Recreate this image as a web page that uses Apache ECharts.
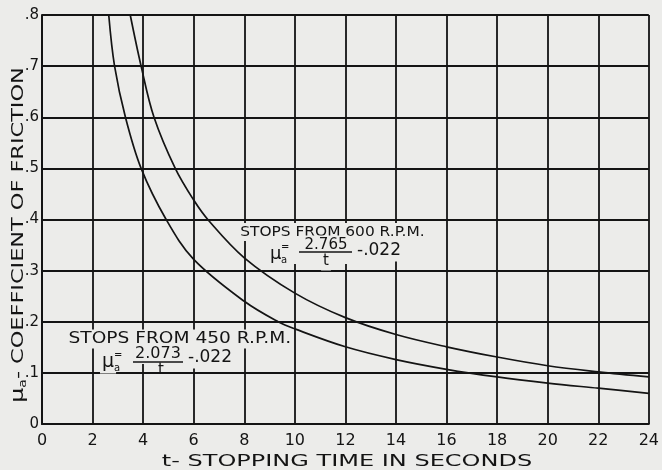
<!DOCTYPE html>
<html><head><meta charset="utf-8">
<script src="https://cdn.jsdelivr.net/npm/echarts@6/dist/echarts.min.js"></script>
<style>html,body{margin:0;padding:0;background:#ececea}#c{width:662px;height:470px}</style>
</head><body><div id="c"></div>
<script>
// Tick labels
const xTickLabels = ['0','2','4','6','8','10','12','14','16','18','20','22','24'];
const yTickLabels = ['0','.1','.2','.3','.4','.5','.6','.7','.8'];
// Stops from 450 R.P.M.
const t450  = [2.64, 2.87, 3.30, 3.92, 4.91, 6.0, 8.0, 9.34, 10.0, 12.0, 14.0, 16.0, 18.0, 20.0, 22.0, 24.0];
const mu450 = [0.80, 0.70, 0.60, 0.50, 0.40, 0.322, 0.240, 0.200, 0.186, 0.151, 0.126, 0.107, 0.092, 0.080, 0.070, 0.060];
// Stops from 600 R.P.M.
const t600  = [3.49, 3.92, 4.43, 5.27, 6.0, 6.59, 8.0, 10.0, 12.0, 14.0, 16.0, 18.0, 20.0, 22.0, 24.0];
const mu600 = [0.80, 0.70, 0.60, 0.50, 0.438, 0.398, 0.325, 0.256, 0.208, 0.175, 0.151, 0.131, 0.114, 0.102, 0.092];

const F = 'DejaVu Sans';
const INK = '#141414';
const PAPER = '#ececea';
const chart = echarts.init(document.getElementById('c'));
const pairs = (xs, ys) => xs.map((x, i) => [x, ys[i]]);
const txt = (x, y, text, size, extra) => ({type: 'text', x: x, y: y, z: 100,
  style: Object.assign({text: text, align: 'left', verticalAlign: 'middle', fill: INK, fontFamily: F, fontSize: size}, extra || {})});
const bg = {backgroundColor: PAPER, padding: [2, 2, 2, 2]};
const bar = (x1, x2, y) => ({type: 'line', z: 101, shape: {x1: x1, y1: y, x2: x2, y2: y}, style: {stroke: INK, lineWidth: 1.4}});
chart.setOption({
  backgroundColor: PAPER,
  animation: false,
  grid: {left: 42, right: 10, top: 15, bottom: 46},
  xAxis: {
    type: 'value', min: 0, max: 24, interval: 2,
    axisLine: {show: true, lineStyle: {color: INK, width: 2}},
    axisTick: {show: false},
    splitLine: {show: true, lineStyle: {color: INK, width: 1.8}},
    axisLabel: {color: INK, fontFamily: F, fontSize: 16, margin: 9,
      formatter: v => xTickLabels[Math.round(v / 2)]}
  },
  yAxis: {
    type: 'value', min: 0, max: 0.8, interval: 0.1,
    axisLine: {show: true, lineStyle: {color: INK, width: 2}},
    axisTick: {show: false},
    splitLine: {show: true, lineStyle: {color: INK, width: 1.8}},
    axisLabel: {color: INK, fontFamily: F, fontSize: 15, margin: 3,
      formatter: v => yTickLabels[Math.round(v * 10)]}
  },
  series: [
    {type: 'line', name: '450 R.P.M.', data: pairs(t450, mu450), smooth: 0.35, showSymbol: false,
     lineStyle: {color: INK, width: 1.7}},
    {type: 'line', name: '600 R.P.M.', data: pairs(t600, mu600), smooth: 0.35, showSymbol: false,
     lineStyle: {color: INK, width: 1.7}}
  ],
  graphic: [
    {type: 'text', x: 19, y: 235, rotation: Math.PI / 2, scaleX: 1.4,
     style: {text: '{m|μ}{s|a}{n|- COEFFICIENT OF FRICTION}', align: 'center', verticalAlign: 'middle', fill: INK,
       rich: {m: {fontFamily: F, fontSize: 17, fill: INK}, s: {fontFamily: F, fontSize: 10, fill: INK, padding: [8, 0, 0, 0]},
              n: {fontFamily: F, fontSize: 16, fill: INK}}}},
    {type: 'text', x: 347, y: 462, scaleX: 1.5,
     style: {text: 't- STOPPING TIME IN SECONDS', align: 'center', verticalAlign: 'middle', fill: INK, fontFamily: F, fontSize: 16}},
    // 600 annotation
    {type: 'rect', z: 99, shape: {x: 266, y: 238, width: 92, height: 26}, style: {fill: PAPER}},
    Object.assign(txt(238, 232, 'STOPS FROM 600 R.P.M.', 14, bg), {scaleX: 1.1}),
    txt(268, 254, 'μ', 18, bg),
    txt(281, 260, 'a', 10),
    txt(281, 247, '=', 10),
    txt(326, 245, '2.765', 15, Object.assign({align: 'center'}, bg)),
    txt(326, 261, 't', 15, Object.assign({align: 'center'}, bg)),
    bar(299, 352, 252),
    txt(355, 251, '-.022', 17, bg),
    // 450 annotation
    Object.assign(txt(66, 339, 'STOPS FROM 450 R.P.M.', 15, bg), {scaleX: 1.24}),
    txt(100, 362, 'μ', 19, bg),
    txt(114, 368, 'a', 10),
    txt(114, 355, '=', 10),
    txt(158, 354, '2.073', 16, Object.assign({align: 'center'}, bg)),
    txt(158, 370, 't', 15),
    bar(133, 183, 362),
    txt(186, 358, '-.022', 17, bg)
  ]
});
</script></body></html>
